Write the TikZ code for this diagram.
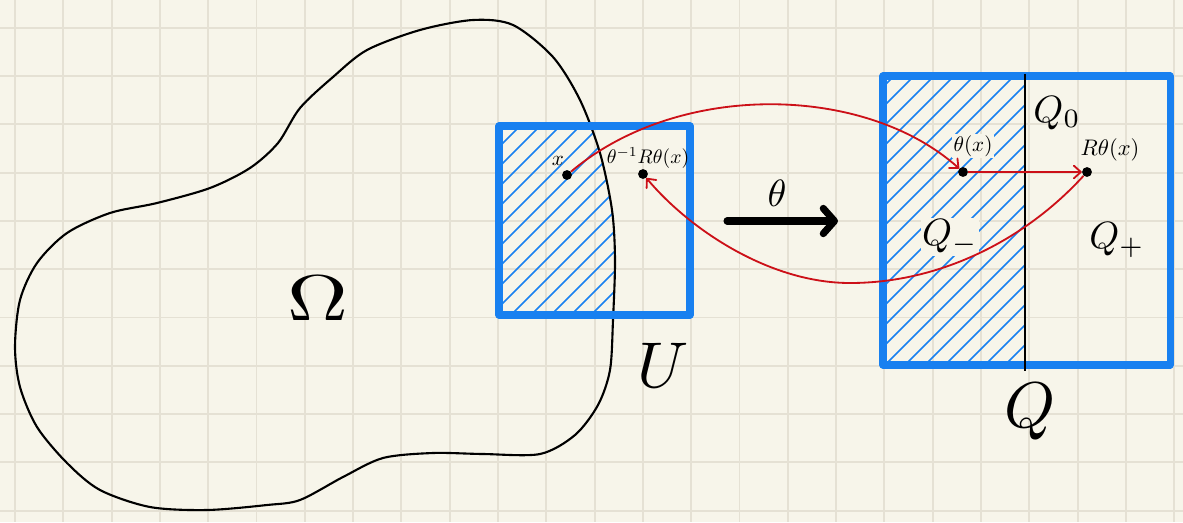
\documentclass[tikz,border=0pt]{standalone}
\usepackage{graphicx}
\usepackage{xcolor}
\usepackage{tikz}
\usetikzlibrary{arrows.meta}
\definecolor{paper}{RGB}{247,245,234}
\definecolor{gridtan}{RGB}{229,225,212}
\definecolor{penblue}{RGB}{24,128,240}
\definecolor{penred}{RGB}{204,16,24}
\newcommand\omegablob{plot[smooth cycle, tension=0.5] coordinates {
  (473,20) (513,25) (553,57) (580,100) (600,153) (612,210) (615,260)
  (613,320) (610,370) (598,405) (575,435) (540,454) (483,454) (433,453)
  (383,458) (343,477) (300,500) (267,505) (207,510) (150,507) (100,490)
  (67,463) (37,427) (20,387) (15,347) (20,300) (37,263) (67,233)
  (110,213) (157,203) (210,188) (250,168) (278,143) (300,108) (333,77)
  (367,50) (420,30)}}

\begin{document}
\begin{tikzpicture}[
    x=0.025cm, y=-0.025cm,
    paperline/.style={draw=gridtan, line width=1.3pt},
    hatch/.style={draw=penblue, line width=1.2pt},
    boxline/.style={draw=penblue, line width=5pt, line join=round},
    blob/.style={draw=black, line width=1.5pt},
    redarrow/.style={draw=penred, line width=1.3pt, -{Straight Barb[length=5pt,width=9pt,round]}},
    bigarrow/.style={draw=black, line width=5pt, line cap=round, -{Straight Barb[length=8pt,width=18pt,round]}},
    dot/.style={circle, fill=black, inner sep=0pt, minimum size=7pt},
    lbl/.style={inner sep=1pt}
  ]
    \useasboundingbox (0,0) rectangle (1183,522);
    \fill[paper] (0,0) rectangle (1183,522);
    \foreach \i in {0,...,24}
      \draw[paperline] ({15+48.3*\i},0) -- ({15+48.3*\i},522);
    \foreach \j in {0,...,10}
      \draw[paperline] (0,{27.7+48.3*\j}) -- (1183,{27.7+48.3*\j});

    % U cap Omega
    \begin{scope}
      \clip (499,126) rectangle (690,315);
      \clip \omegablob;
      \foreach \c in {606,626,...,1026}
        \draw[hatch] (\c-330,330) -- (\c-110,110);
    \end{scope}

    % Q_-
    \begin{scope}
      \clip (883,76) rectangle (1025,365);
      \foreach \c in {950,970,...,1400}
        \draw[hatch] (\c-380,380) -- (\c-60,60);
    \end{scope}

    \draw[blob] \omegablob;
    \draw[boxline] (499,126) rectangle (690,315);
    \draw[boxline] (883,76) rectangle (1170,365);
    \draw[blob] (1025,74) -- (1025,371);

    % points
    \node[dot] (x) at (567,175) {};
    \node[dot] (itx) at (643,174) {};
    \node[dot] (tx) at (963,172) {};
    \node[dot] (rtx) at (1087,172) {};

    % labels
    \node[lbl] (xlab) at (558,161) {\scalebox{1.5}{$x$}};
    \node[lbl] (itxlab) at (648,158) {\scalebox{1.4}{$\theta^{-1}R\theta(x)$}};
    \node[lbl, fill=paper] (txlab) at (973,146) {\scalebox{1.5}{$\theta(x)$}};
    \node[lbl] (rtxlab) at (1110,150) {\scalebox{1.6}{$R\theta(x)$}};
    \node[lbl] (qzero) at (1057,113) {\scalebox{2.7}{$Q_0$}};
    \node[lbl, fill=paper] (qminus) at (950,237) {\scalebox{2.7}{$Q_-$}};
    \node[lbl] (qplus) at (1117,240) {\scalebox{2.7}{$Q_+$}};
    \node[lbl] (thlab) at (777,193) {\scalebox{2.7}{$\theta$}};
    \node[lbl] (omlab) at (318,298) {\scalebox{6}[4.6]{$\Omega$}};
    \node[lbl] (ulab) at (663,365) {\scalebox{4.6}{$U$}};
    \node[lbl] (qlab) at (1030,412) {\scalebox{4.6}{$Q$}};

    % theta
    \coordinate (thstart) at (727,221);
    \coordinate (thend) at (838,221);
    \draw[bigarrow] (thstart) -- (thend);

    % red maps
    \draw[redarrow] (x) .. controls +(113,-95) and +(-97,-87) .. (tx);
    \draw[redarrow] (tx) -- (rtx);
    \draw[redarrow] (rtx) .. controls +(-62,68) and +(90,0) .. (850,283)
      .. controls +(-80,0) and +(47,56) .. (itx);
  \end{tikzpicture}
\end{document}
